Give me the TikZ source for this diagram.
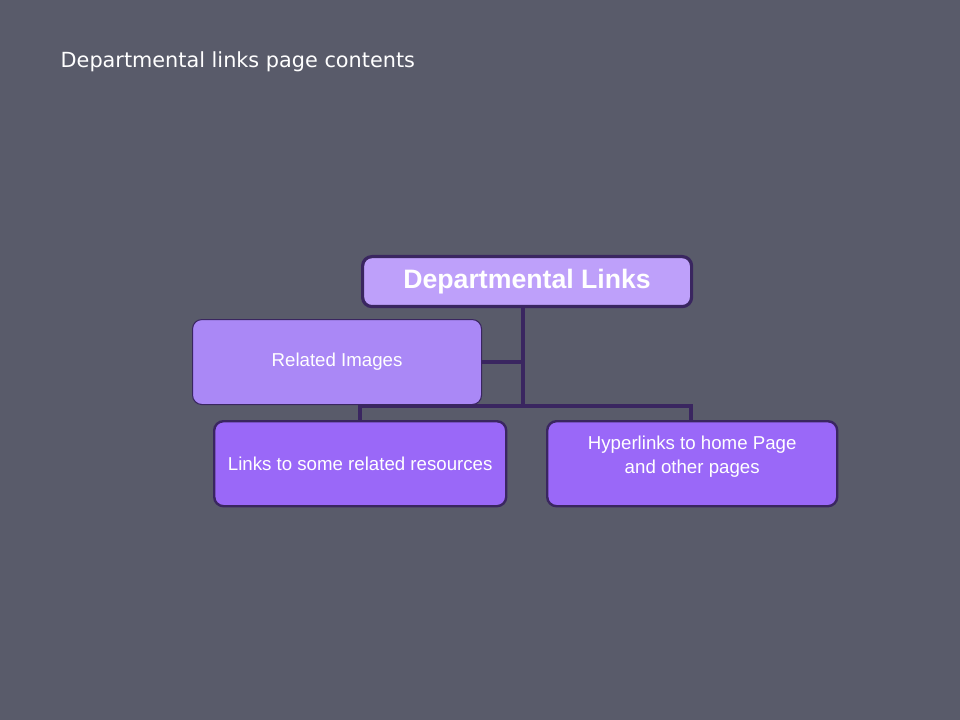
\documentclass[tikz,border=0pt]{standalone}
\usepackage{fontspec}
\setmainfont{Liberation Sans}
\newfontfamily\titlefont{DejaVu Sans}
\usetikzlibrary{positioning}

\definecolor{slidebg}{RGB}{89,91,106}
\definecolor{rimpurple}{RGB}{58,38,96}
\definecolor{toplav}{RGB}{190,160,250}
\definecolor{midlav}{RGB}{170,136,246}
\definecolor{leafviolet}{RGB}{154,104,248}

\tikzset{
  orgbox/.style={draw=rimpurple, rounded corners=7pt, text=white, align=center,
    inner sep=0pt, anchor=north west},
  headbox/.style={orgbox, fill=toplav, line width=2.4pt, font=\bfseries\fontsize{20}{24}\selectfont},
  sidebox/.style={orgbox, fill=midlav, line width=0.8pt, font=\fontsize{14}{17}\selectfont},
  leafbox/.style={orgbox, fill=leafviolet, line width=1.8pt, font=\fontsize{14}{18}\selectfont},
  orgline/.style={draw=rimpurple, line width=3.6pt},
}

\begin{document}
\begin{tikzpicture}[x=0.75pt,y=-0.75pt]
\fill[slidebg] (0,0) rectangle (960,720);
\useasboundingbox (0,0) rectangle (960,720);

\node[anchor=west, text=white, font=\titlefont\fontsize{15.6}{18}\selectfont] (title) at (56,62) {Departmental links page contents};

\coordinate (hub) at (523,406);
\coordinate (side) at (523,362);
\coordinate (barL) at (360,406);
\coordinate (barR) at (691,406);

\node[headbox, minimum width=329*0.75pt, minimum height=50*0.75pt] (head) at (361,255) {Departmental Links};
\node[sidebox, minimum width=289*0.75pt, minimum height=85*0.75pt] (images) at (192,319) {Related Images};
\node[leafbox, minimum width=292*0.75pt, minimum height=85*0.75pt] (resources) at (213,420) {Links to some related resources};
\node[leafbox, minimum width=290*0.75pt, minimum height=85*0.75pt, text depth=14pt] (hyper) at (546,420) {Hyperlinks to home Page\\and other pages};

% tree lines
\draw[orgline] (head.south -| hub) -- (hub);
\draw[orgline] (images.east |- side) -- (side);
\draw[orgline, line cap=rect] (barL) -- (barR);
\draw[orgline] (barL) -- (barL |- resources.north);
\draw[orgline] (barR) -- (barR |- hyper.north);
\end{tikzpicture}
\end{document}
